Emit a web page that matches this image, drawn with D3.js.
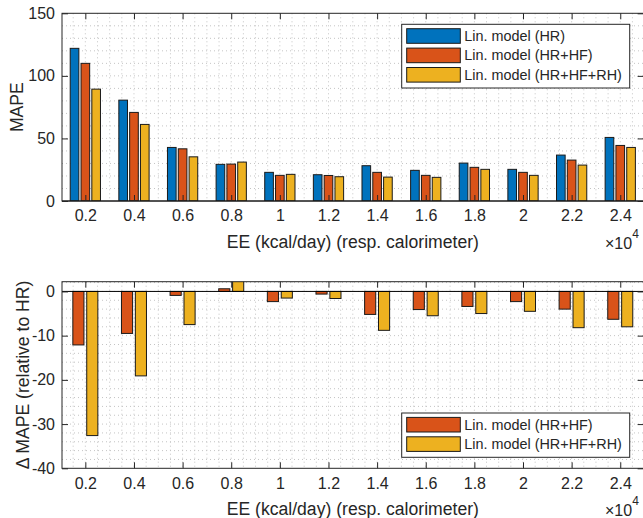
<!DOCTYPE html>
<html>
<head>
<meta charset="utf-8">
<script src="https://cdn.jsdelivr.net/npm/d3@7"></script>
<style>
  body { margin: 0; background: #fff; }
  svg { font-family: "Liberation Sans", Arial, Helvetica, sans-serif; }
  .tick text { fill: #262626; }
</style>
</head>
<body>
<div id="chart"></div>
<script>

// energie-uitgave (x 10^4 kcal/dag)
var categorieen = [0.2, 0.4, 0.6, 0.8, 1, 1.2, 1.4, 1.6, 1.8, 2, 2.2, 2.4];
var tickLabels = ["0.2", "0.4", "0.6", "0.8", "1", "1.2", "1.4", "1.6", "1.8", "2", "2.2", "2.4"];

// MAPE per model
var mapeHR     = [122, 80.6, 42.8, 29.3, 22.9, 21.0, 28.2, 24.5, 30.3, 25.3, 36.7, 50.8];
var mapeHRHF   = [110, 70.8, 41.7, 29.5, 20.5, 20.4, 22.9, 20.5, 26.9, 22.9, 32.7, 44.4];
var mapeHRHFRH = [89.4, 61.2, 35.3, 31.1, 21.3, 19.4, 19.1, 18.9, 25.3, 20.5, 28.7, 42.8];

// verschil ten opzichte van HR
var deltaHRHF   = [-12.1, -9.5, -0.9, 0.6, -2.3, -0.6, -5.2, -4.1, -3.4, -2.3, -4.0, -6.3];
var deltaHRHFRH = [-32.6, -19.1, -7.5, 2.5, -1.5, -1.6, -8.8, -5.5, -5.0, -4.5, -8.2, -8.0];

var yTicksBoven = [0, 50, 100, 150];
var yTicksOnder = [-40, -30, -20, -10, 0];

var namen = ["Lin. model (HR)", "Lin. model (HR+HF)", "Lin. model (HR+HF+RH)"];
var kleuren = ["#0072BD", "#D95319", "#EDB120"];

var breedte = 643, hoogte = 518;
var tekstKleur = "#262626";

var svg = d3.select("#chart").append("svg")
            .attr("width", breedte)
            .attr("height", hoogte);

var x = d3.scaleLinear().domain([0.104, 2.496]).range([62, 643.6]);

function grafiek(opties) {
  var y = d3.scaleLinear().domain(opties.yDomein).range([opties.onder, opties.boven]);
  var links = x.range()[0], rechts = x.range()[1];
  var g = svg.append("g");

  // clip voor balken buiten het bereik
  var clipId = "clip" + opties.id;
  svg.append("clipPath").attr("id", clipId)
     .append("rect")
     .attr("x", links).attr("y", opties.boven)
     .attr("width", rechts - links).attr("height", opties.onder - opties.boven);

  // raster (gestippeld)
  var rasterX = d3.range(0.15, 2.46, 0.05);
  var rasterY = d3.range(opties.yDomein[0] + opties.yStap, opties.yDomein[1], opties.yStap);
  g.append("g").selectAll("line").data(rasterX).enter().append("line")
   .attr("x1", function(d) { return x(d); }).attr("x2", function(d) { return x(d); })
   .attr("y1", opties.boven).attr("y2", opties.onder)
   .attr("stroke", "#c4c4c4").attr("stroke-width", 1)
   .attr("stroke-dasharray", "1,3");
  g.append("g").selectAll("line").data(rasterY).enter().append("line")
   .attr("x1", links).attr("x2", rechts)
   .attr("y1", function(d) { return y(d); }).attr("y2", function(d) { return y(d); })
   .attr("stroke", "#c4c4c4").attr("stroke-width", 1)
   .attr("stroke-dasharray", "1,3");

  // balken
  var n = opties.series.length;
  var groepBreedte = 0.2 * Math.min(0.8, n / (n + 1.5));
  var sub = d3.scaleBand().domain(d3.range(n))
              .range([-groepBreedte / 2, groepBreedte / 2])
              .paddingInner(0.2).paddingOuter(0.1);

  var balken = g.append("g").attr("clip-path", "url(#" + clipId + ")");
  opties.series.forEach(function(serie, s) {
    balken.append("g").selectAll("rect")
      .data(serie.waarden).enter().append("rect")
      .attr("x", function(d, i) { return x(categorieen[i] + sub(s)); })
      .attr("width", function() { return x(sub.bandwidth()) - x(0); })
      .attr("y", function(d) { return y(Math.max(0, d)); })
      .attr("height", function(d) { return Math.abs(y(d) - y(0)); })
      .attr("fill", serie.kleur)
      .attr("stroke", "#1a1a1a")
      .attr("stroke-width", 1);
  });

  // nullijn
  g.append("line")
   .attr("x1", links).attr("x2", rechts)
   .attr("y1", y(0)).attr("y2", y(0))
   .attr("stroke", "#000").attr("stroke-width", 1);

  // assen met naar binnen gerichte ticks
  g.append("g").attr("transform", "translate(0," + opties.onder + ")")
   .call(d3.axisBottom(x).tickValues(categorieen)
          .tickFormat(function(d, i) { return tickLabels[i]; })
          .tickSize(-6).tickPadding(9))
   .call(function(a) { a.select(".domain").remove(); a.selectAll("line").attr("stroke", tekstKleur); })
   .selectAll("text").attr("font-size", 16);
  g.append("g").attr("transform", "translate(0," + opties.boven + ")")
   .call(d3.axisTop(x).tickValues(categorieen).tickFormat("").tickSize(-6))
   .call(function(a) { a.select(".domain").remove(); a.selectAll("line").attr("stroke", tekstKleur); });
  g.append("g").attr("transform", "translate(" + links + ",0)")
   .call(d3.axisLeft(y).tickValues(opties.yTicks)
          .tickFormat(function(d) { return String(d); })
          .tickSize(-6).tickPadding(7))
   .call(function(a) { a.select(".domain").remove(); a.selectAll("line").attr("stroke", tekstKleur); })
   .selectAll("text").attr("font-size", 16);
  g.append("g").attr("transform", "translate(" + rechts + ",0)")
   .call(d3.axisRight(y).tickValues(opties.yTicks).tickFormat("").tickSize(-6))
   .call(function(a) { a.select(".domain").remove(); a.selectAll("line").attr("stroke", tekstKleur); });

  // kader
  g.append("rect")
   .attr("x", links).attr("y", opties.boven)
   .attr("width", rechts - links).attr("height", opties.onder - opties.boven)
   .attr("fill", "none").attr("stroke", tekstKleur).attr("stroke-width", 1);

  // aslabels
  g.append("text")
   .attr("x", (links + rechts) / 2).attr("y", opties.onder + 47)
   .attr("text-anchor", "middle").attr("font-size", 17.6).attr("fill", tekstKleur)
   .text("EE (kcal/day) (resp. calorimeter)");
  var expo = g.append("text")
   .attr("x", 605).attr("y", opties.onder + 48)
   .attr("font-size", 16).attr("fill", tekstKleur);
  expo.append("tspan").text("\u00d710");
  expo.append("tspan").attr("dy", -11).attr("font-size", 12).text("4");

  g.append("text")
   .attr("transform", "translate(" + opties.yLabelX + "," + (opties.boven + opties.onder) / 2 + ") rotate(-90)")
   .attr("text-anchor", "middle").attr("font-size", 17.6).attr("fill", tekstKleur)
   .text(opties.yLabel);

  // legenda
  var leg = g.append("g");
  leg.append("rect")
     .attr("x", 401.7).attr("y", opties.legendaY)
     .attr("width", 228).attr("height", opties.series.length * 19.4 + 5.5)
     .attr("fill", "#fff").attr("stroke", tekstKleur).attr("stroke-width", 1);
  opties.series.forEach(function(serie, s) {
    var ry = opties.legendaY + 4.4 + s * 19.4;
    leg.append("rect")
       .attr("x", 406.7).attr("y", ry)
       .attr("width", 53.6).attr("height", 14.6)
       .attr("fill", serie.kleur).attr("stroke", "#1a1a1a").attr("stroke-width", 1);
    leg.append("text")
       .attr("x", 464.3).attr("y", ry + 7.3)
       .attr("dominant-baseline", "central")
       .attr("font-size", 14.4).attr("fill", tekstKleur)
       .text(serie.naam);
  });
}

grafiek({
  id: 1, boven: 13.3, onder: 201, yDomein: [0, 150], yStap: 10,
  yTicks: yTicksBoven, yLabel: "MAPE", yLabelX: 22.5, legendaY: 24.3,
  series: [
    {naam: namen[0], kleur: kleuren[0], waarden: mapeHR},
    {naam: namen[1], kleur: kleuren[1], waarden: mapeHRHF},
    {naam: namen[2], kleur: kleuren[2], waarden: mapeHRHFRH}
  ]
});

grafiek({
  id: 2, boven: 281.7, onder: 468.3, yDomein: [-40, 2.2], yStap: 2,
  yTicks: yTicksOnder, yLabel: "\u0394 MAPE (relative to HR)", yLabelX: 28.5, legendaY: 413,
  series: [
    {naam: namen[1], kleur: kleuren[1], waarden: deltaHRHF},
    {naam: namen[2], kleur: kleuren[2], waarden: deltaHRHFRH}
  ]
});
</script>
</body>
</html>
